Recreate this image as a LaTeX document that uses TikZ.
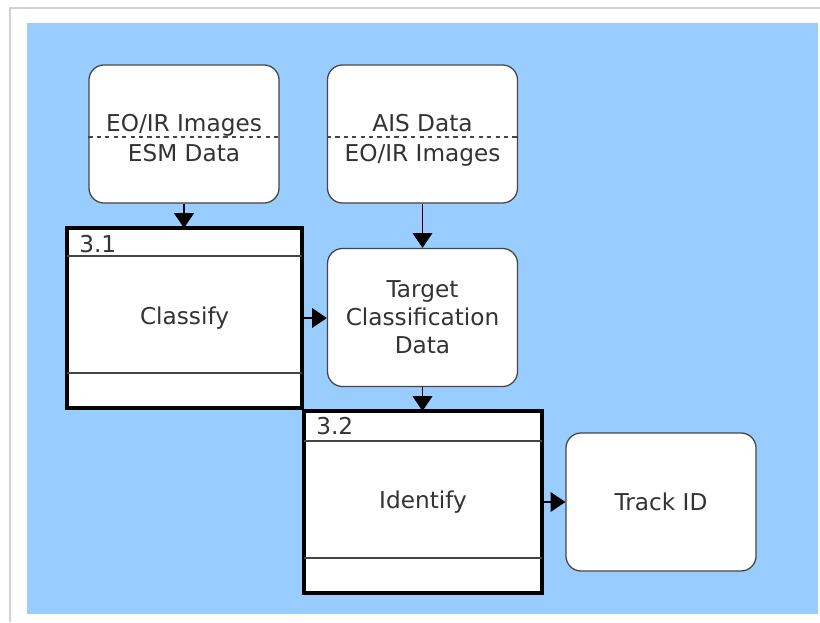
\documentclass[tikz,border=0pt]{standalone}
\usepackage{fontspec}
\setmainfont{DejaVu Sans}
\usetikzlibrary{arrows.meta,positioning,calc}
\definecolor{FlowBlue}{HTML}{99CCFF}
\definecolor{FlowInk}{HTML}{333333}
\definecolor{FlowEdge}{HTML}{454545}
\tikzset{
  store/.style={draw=FlowEdge,fill=white,rounded corners=0.375cm,line width=0.9pt,
    minimum width=4.75cm,minimum height=3.45cm,inner sep=0pt},
  proc/.style={draw=black,fill=white,line width=2.85pt,outer sep=0pt,inner sep=0pt},
  flow/.style={-{Triangle[length=10.5pt,width=14pt]},line width=0.8pt,black},
  divider/.style={line width=0.8pt,FlowEdge},
}
\begin{document}
\begin{tikzpicture}[font=\fontsize{16.5}{20}\selectfont,text=FlowInk]
  \useasboundingbox (0,0) rectangle (20.5,15.55);
  \draw[gray!35,line width=0.8pt] (0.25,0)--(0.25,15.35)--(20.5,15.35);
  \fill[FlowBlue] (0.675,0.2) rectangle (20.45,14.975);

  \node[store] (eoesm) at (4.6,12.2) {};
  \draw[divider,dashed] ($(eoesm.west)+(0,-0.075)$) -- ($(eoesm.east)+(0,-0.075)$);
  \node[anchor=base] (eoimgA) at ($(eoesm.center)+(0,0.05)$) {EO/IR Images};
  \node[anchor=base] (esm) at ($(eoesm.center)+(0,-0.7)$) {ESM Data};

  \node[store] (aiseo) at (10.5625,12.2) {};
  \draw[divider,dashed] ($(aiseo.west)+(0,-0.075)$) -- ($(aiseo.east)+(0,-0.075)$);
  \node[anchor=base] (ais) at ($(aiseo.center)+(0,0.05)$) {AIS Data};
  \node[anchor=base] (eoimgB) at ($(aiseo.center)+(0,-0.7)$) {EO/IR Images};

  \node[store,align=center] (tcd) at (10.5625,7.6125) {Target\\Classification\\Data};
  \node[store] (trackid) at (16.525,3.0) {Track ID};

  \node[proc,minimum width=5.875cm,minimum height=4.5cm] (p31) at (4.6125,7.6) {Classify};
  \draw[divider] ($(p31.north west)+(0,-0.7)$) -- ($(p31.north east)+(0,-0.7)$);
  \draw[divider] ($(p31.south west)+(0,0.875)$) -- ($(p31.south east)+(0,0.875)$);
  \node[anchor=base west,inner sep=0pt] (n31) at ($(p31.north west)+(0.3,-0.6)$) {3.1};

  \node[proc,minimum width=5.95cm,minimum height=4.55cm] (p32) at (10.575,3.0) {Identify};
  \draw[divider] ($(p32.north west)+(0,-0.75)$) -- ($(p32.north east)+(0,-0.75)$);
  \draw[divider] ($(p32.south west)+(0,0.875)$) -- ($(p32.south east)+(0,0.875)$);
  \node[anchor=base west,inner sep=0pt] (n32) at ($(p32.north west)+(0.3,-0.575)$) {3.2};

  \draw[flow] (eoesm.south) -- (eoesm.south |- p31.north);
  \draw[flow] (aiseo.south) -- (tcd.north);
  \draw[flow] (p31.east) -- (p31.east -| tcd.west);
  \draw[flow] (tcd.south) -- (tcd.south |- p32.north);
  \draw[flow] (p32.east) -- (p32.east -| trackid.west);
\end{tikzpicture}
\end{document}
